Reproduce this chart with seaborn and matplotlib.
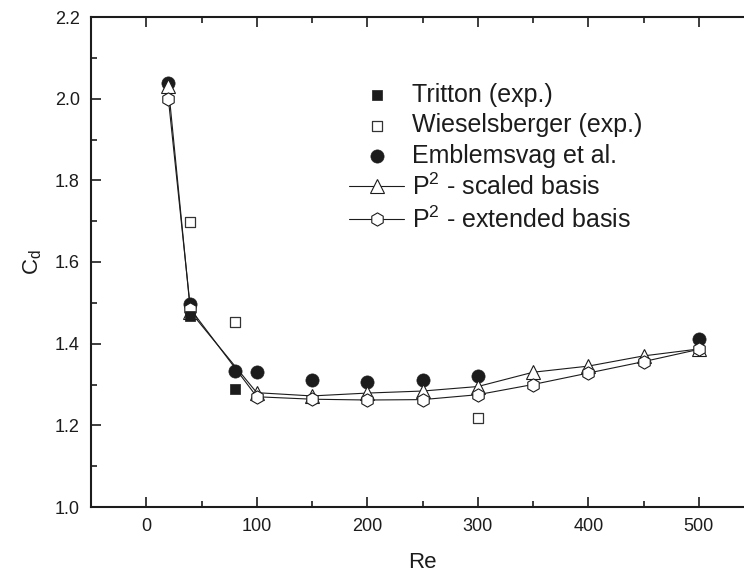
import matplotlib
matplotlib.use("Agg")
import matplotlib.pyplot as plt
import seaborn as sns
import pandas as pd
from matplotlib.ticker import MultipleLocator, FormatStrFormatter

# ---- data ----
re_tritton = [40, 80]
cd_tritton = [1.467, 1.29]

re_wiesel = [40, 80, 300]
cd_wiesel = [1.698, 1.453, 1.219]

re_emb = [20, 40, 80, 100, 150, 200, 250, 300, 500]
cd_emb = [2.038, 1.497, 1.333, 1.330, 1.311, 1.307, 1.310, 1.321, 1.412]

re_p2 = [20, 40, 100, 150, 200, 250, 300, 350, 400, 450, 500]
cd_scaled = [2.030, 1.478, 1.280, 1.272, 1.279, 1.284, 1.295, 1.330, 1.345, 1.370, 1.387]
cd_extended = [2.000, 1.485, 1.270, 1.264, 1.262, 1.263, 1.275, 1.300, 1.328, 1.356, 1.386]

labels = ["Tritton (exp.)", "Wieselsberger (exp.)", "Emblemsvag et al.",
          "P$^2$ - scaled basis", "P$^2$ - extended basis"]

sns.set_style("ticks")
plt.rcParams['font.family'] = ['Liberation Sans', 'DejaVu Sans']
plt.rcParams['mathtext.fontset'] = 'custom'
plt.rcParams['mathtext.rm'] = 'Liberation Sans'
plt.rcParams['mathtext.it'] = 'Liberation Sans:italic'
plt.rcParams['mathtext.bf'] = 'Liberation Sans:bold'

W, H = 744, 576
fig = plt.figure(figsize=(W / 100, H / 100), dpi=100)
# axes spans x: 91 -> 754 px (right spine just outside the image), y: 17 -> 507 px
ax = fig.add_axes([91 / W, 1 - 507 / H, (754 - 91) / W, (507 - 17) / H])

ink = "#1c1c1c"
df_s = pd.DataFrame({"Re": re_p2, "Cd": cd_scaled})
df_e = pd.DataFrame({"Re": re_p2, "Cd": cd_extended})

sns.lineplot(data=df_s, x="Re", y="Cd", ax=ax, color=ink, lw=0.8,
             marker="^", markersize=10, markerfacecolor="white",
             markeredgecolor=ink, markeredgewidth=0.8, label=labels[3], zorder=3)
sns.lineplot(data=df_e, x="Re", y="Cd", ax=ax, color=ink, lw=0.8,
             marker="h", markersize=9.5, markerfacecolor="white",
             markeredgecolor=ink, markeredgewidth=0.8, label=labels[4], zorder=3)

sns.scatterplot(x=re_tritton, y=cd_tritton, ax=ax, marker="s", s=62,
                color=ink, edgecolor=ink, linewidth=0.5, label=labels[0], zorder=4)
sns.scatterplot(x=re_wiesel, y=cd_wiesel, ax=ax, marker="s", s=55,
                facecolor="white", edgecolor="#333333", linewidth=0.9, label=labels[1], zorder=4)
sns.scatterplot(x=re_emb, y=cd_emb, ax=ax, marker="o", s=90,
                color=ink, edgecolor=ink, linewidth=0.5, label=labels[2], zorder=2)

ax.set_xlim(-50, 550)
ax.set_ylim(1.0, 2.2)
ax.xaxis.set_major_locator(MultipleLocator(100))
ax.xaxis.set_minor_locator(MultipleLocator(50))
ax.yaxis.set_major_locator(MultipleLocator(0.2))
ax.yaxis.set_minor_locator(MultipleLocator(0.1))
ax.yaxis.set_major_formatter(FormatStrFormatter('%.1f'))
ax.tick_params(which='both', direction='in', top=True, right=True, colors=ink,
               labelsize=13, width=1.2)
ax.tick_params(which='major', length=7, pad=8)
ax.tick_params(which='minor', length=4)
for s in ax.spines.values():
    s.set_linewidth(1.5)
    s.set_color(ink)

ax.set_xlabel("Re", fontsize=16, labelpad=12, color=ink)
ax.set_ylabel("C$_\\mathrm{d}$", fontsize=16, labelpad=8, color=ink)

handles, labs = ax.get_legend_handles_labels()
order = [labs.index(l) for l in labels]
leg = ax.legend([handles[i] for i in order], [labs[i] for i in order],
                loc='upper left', bbox_to_anchor=(339 / W, 1 - 73 / H),
                bbox_transform=fig.transFigure, frameon=False,
                fontsize=18, handlelength=2.2, handletextpad=0.3, labelspacing=0.25,
                borderaxespad=0, borderpad=0.4)
for t in leg.get_texts():
    t.set_color(ink)

fig.savefig("out.png", dpi=100)
